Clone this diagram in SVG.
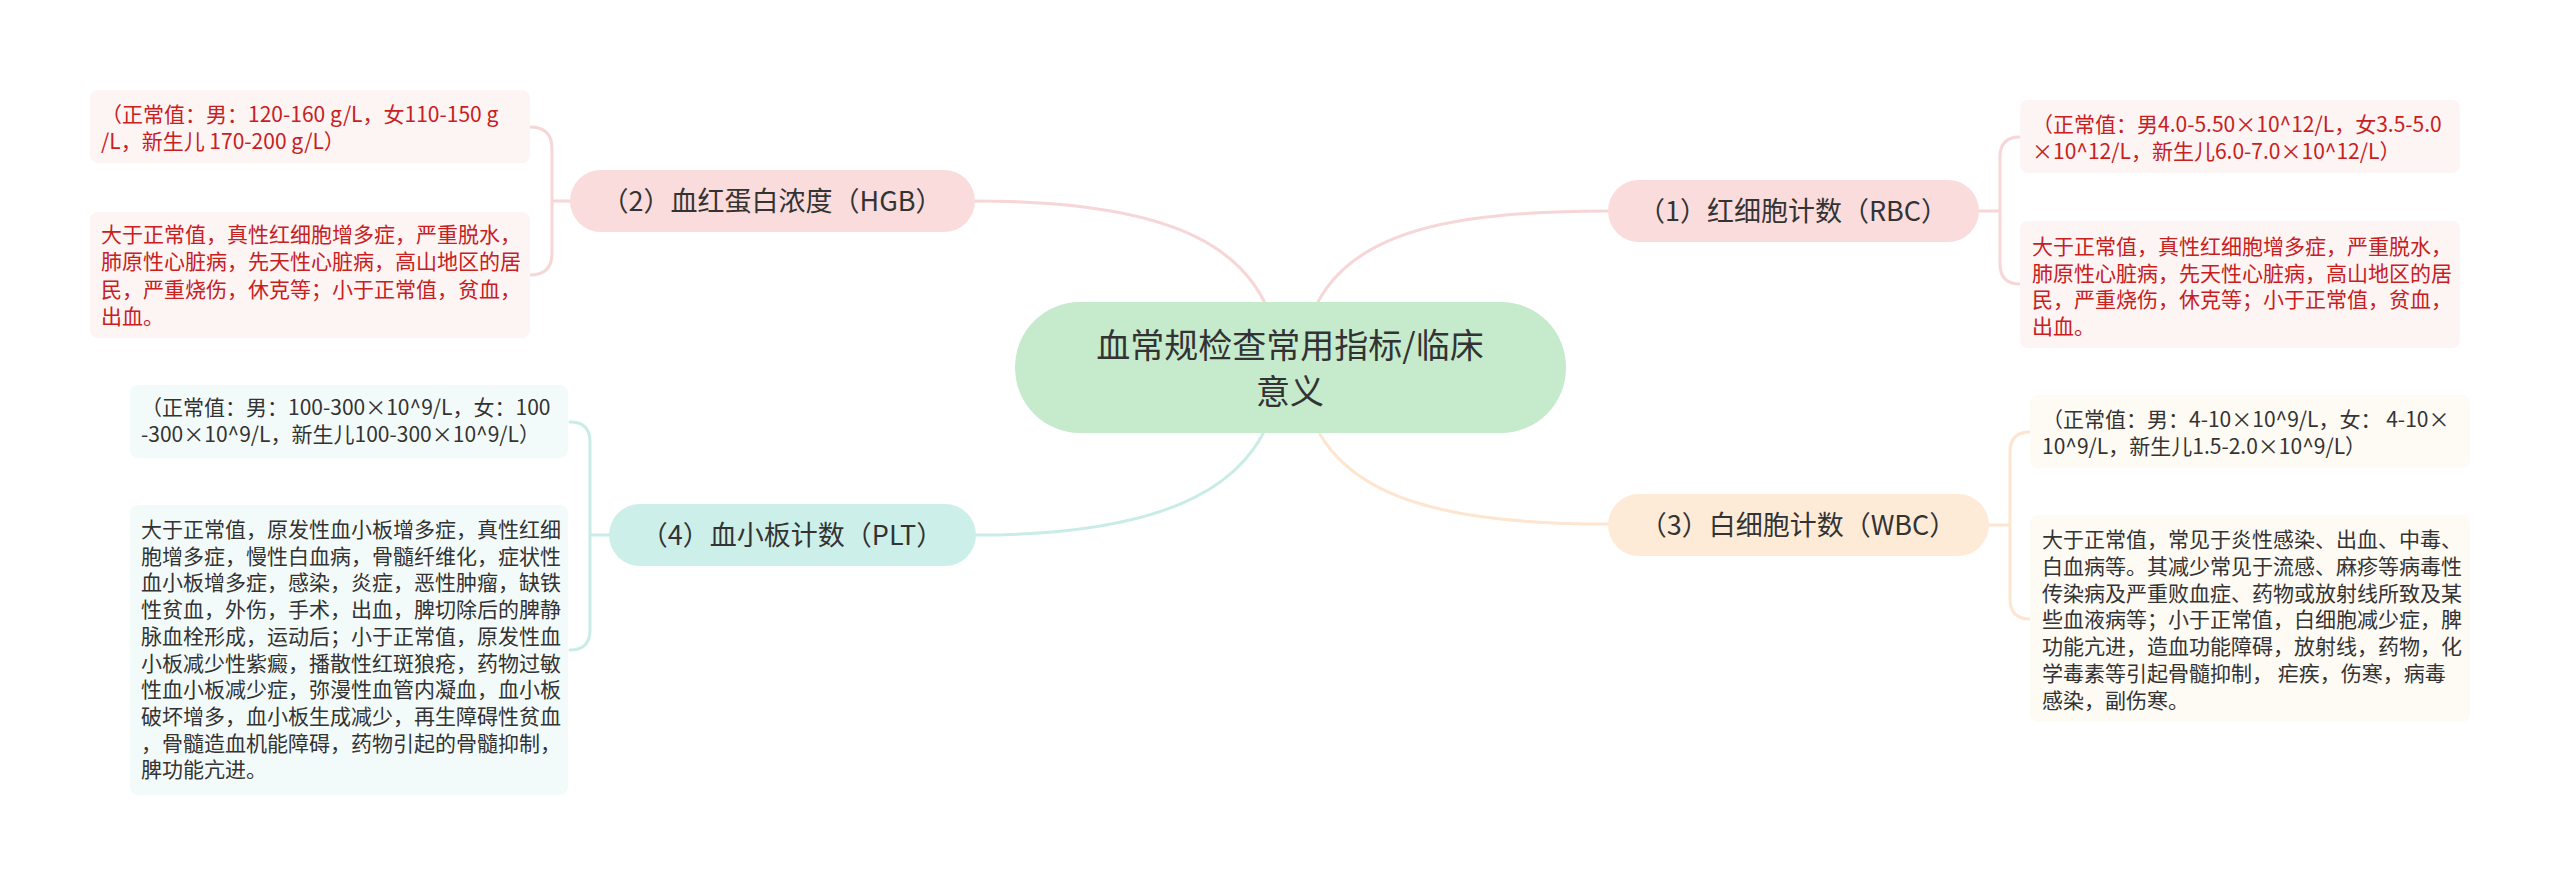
<svg xmlns="http://www.w3.org/2000/svg" width="2560" height="885" viewBox="0 0 2560 885">
<style>
text{font-family:"Noto Sans CJK SC","Noto Sans",sans-serif;}
.lbl{font-size:27px;fill:#333;text-anchor:middle;}
.root{font-size:34px;fill:#333;text-anchor:middle;}
.det{font-size:21px;fill:#333;}
.red{fill:#c8201e;}
.ln{fill:none;stroke-width:3;stroke-linecap:round;}
.pk{stroke:#f6d6d6;}
.pe{stroke:#fde5cf;}
.cy{stroke:#c9ece6;}
.bpk{fill:#fdf4f4;}
.bpe{fill:#fefaf4;}
.bcy{fill:#f3fbfa;}
</style>
<rect width="2560" height="885" fill="#fff"/>
<g id="connectors">
<path class="ln pk" d="M1280 367 C1275 240 1160 201 975 201"/>
<path class="ln pk" d="M1300 367 C1310 240 1420 211 1608 211"/>
<path class="ln pe" d="M1300 367 C1310 490 1420 524 1608 524"/>
<path class="ln cy" d="M1280 367 C1275 490 1160 535 976 535"/>
<path class="ln pk" d="M570 201 L552 201 M530 127 Q552 127 552 149 L552 253 Q552 275 530 275"/>
<path class="ln pk" d="M1979 211 L2000 211 M2020 137 Q2000 137 2000 157 L2000 264 Q2000 284 2020 284"/>
<path class="ln pe" d="M1989 525 L2010 525 M2030 432 Q2010 432 2010 452 L2010 599 Q2010 619 2030 619"/>
<path class="ln cy" d="M609 535 L590 535 M570 422 Q590 422 590 442 L590 630 Q590 650 570 650"/>
</g>
<g id="root">
<rect x="1015" y="302" width="551" height="131" rx="65" fill="#c5eacc"/>
<text class="root" x="1290" y="358">血常规检查常用指标/临床</text>
<text class="root" x="1290" y="404">意义</text>
</g>
<g id="hgb">
<rect x="570" y="170" width="405" height="62" rx="31" fill="#fadcdc"/>
<text class="lbl" x="772" y="211">（2）血红蛋白浓度（HGB）</text>
</g>
<g id="rbc">
<rect x="1608" y="180" width="371" height="62" rx="31" fill="#fadcdc"/>
<text class="lbl" x="1793" y="221">（1）红细胞计数（RBC）</text>
</g>
<g id="wbc">
<rect x="1608" y="494" width="381" height="62" rx="31" fill="#fdebd8"/>
<text class="lbl" x="1798" y="535">（3）白细胞计数（WBC）</text>
</g>
<g id="plt">
<rect x="609" y="504" width="367" height="62" rx="31" fill="#cdefe9"/>
<text class="lbl" x="792" y="545">（4）血小板计数（PLT）</text>
</g>
<g id="hgb-normal">
<rect class="bpk" x="90" y="90" width="440" height="73" rx="8"/>
<text class="det red" x="101" y="122"><tspan>（正常值：男：120-160 g/L，女110-150 g</tspan><tspan x="101" dy="27">/L，新生儿 170-200 g/L）</tspan></text>
</g>
<g id="hgb-detail">
<rect class="bpk" x="90" y="212" width="440" height="126" rx="8"/>
<text class="det red" x="101" y="242"><tspan>大于正常值，真性红细胞增多症，严重脱水，</tspan><tspan x="101" dy="27.3">肺原性心脏病，先天性心脏病，高山地区的居</tspan><tspan x="101" dy="27.3">民，严重烧伤，休克等；小于正常值，贫血，</tspan><tspan x="101" dy="27.3">出血。</tspan></text>
</g>
<g id="rbc-normal">
<rect class="bpk" x="2020" y="100" width="440" height="73" rx="8"/>
<text class="det red" x="2032" y="132"><tspan>（正常值：男4.0-5.50×10^12/L，女3.5-5.0</tspan><tspan x="2032" dy="27">×10^12/L，新生儿6.0-7.0×10^12/L）</tspan></text>
</g>
<g id="rbc-detail">
<rect class="bpk" x="2020" y="221" width="440" height="127" rx="8"/>
<text class="det red" x="2032" y="254"><tspan>大于正常值，真性红细胞增多症，严重脱水，</tspan><tspan x="2032" dy="26.7">肺原性心脏病，先天性心脏病，高山地区的居</tspan><tspan x="2032" dy="26.7">民，严重烧伤，休克等；小于正常值，贫血，</tspan><tspan x="2032" dy="26.7">出血。</tspan></text>
</g>
<g id="wbc-normal">
<rect class="bpe" x="2030" y="395" width="440" height="73" rx="8"/>
<text class="det" x="2042" y="427"><tspan>（正常值：男：4-10×10^9/L，女： 4-10×</tspan><tspan x="2042" dy="27">10^9/L，新生儿1.5-2.0×10^9/L）</tspan></text>
</g>
<g id="wbc-detail">
<rect class="bpe" x="2030" y="515" width="440" height="207" rx="8"/>
<text class="det" x="2042" y="547"><tspan>大于正常值，常见于炎性感染、出血、中毒、</tspan><tspan x="2042" dy="26.8">白血病等。其减少常见于流感、麻疹等病毒性</tspan><tspan x="2042" dy="26.8">传染病及严重败血症、药物或放射线所致及某</tspan><tspan x="2042" dy="26.8">些血液病等；小于正常值，白细胞减少症，脾</tspan><tspan x="2042" dy="26.8">功能亢进，造血功能障碍，放射线，药物，化</tspan><tspan x="2042" dy="26.8">学毒素等引起骨髓抑制， 疟疾，伤寒，病毒</tspan><tspan x="2042" dy="26.8">感染，副伤寒。</tspan></text>
</g>
<g id="plt-normal">
<rect class="bcy" x="130" y="385" width="438" height="73" rx="8"/>
<text class="det" x="141" y="415"><tspan>（正常值：男：100-300×10^9/L，女：100</tspan><tspan x="141" dy="27">-300×10^9/L，新生儿100-300×10^9/L）</tspan></text>
</g>
<g id="plt-detail">
<rect class="bcy" x="130" y="505" width="438" height="290" rx="8"/>
<text class="det" x="141" y="537"><tspan>大于正常值，原发性血小板增多症，真性红细</tspan><tspan x="141" dy="26.7">胞增多症，慢性白血病，骨髓纤维化，症状性</tspan><tspan x="141" dy="26.7">血小板增多症，感染，炎症，恶性肿瘤，缺铁</tspan><tspan x="141" dy="26.7">性贫血，外伤，手术，出血，脾切除后的脾静</tspan><tspan x="141" dy="26.7">脉血栓形成，运动后；小于正常值，原发性血</tspan><tspan x="141" dy="26.7">小板减少性紫癜，播散性红斑狼疮，药物过敏</tspan><tspan x="141" dy="26.7">性血小板减少症，弥漫性血管内凝血，血小板</tspan><tspan x="141" dy="26.7">破坏增多，血小板生成减少，再生障碍性贫血</tspan><tspan x="141" dy="26.7">，骨髓造血机能障碍，药物引起的骨髓抑制，</tspan><tspan x="141" dy="26.7">脾功能亢进。</tspan></text>
</g>
</svg>
